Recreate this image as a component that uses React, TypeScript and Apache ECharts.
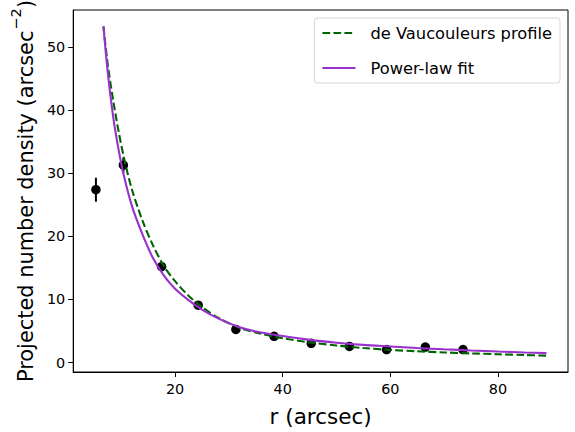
import React, { useEffect, useRef } from "react";
import * as echarts from "echarts";

// Observed data points (radius in arcsec, projected density, error)
const rObs = [5.3, 10.4, 17.5, 24.3, 31.3, 38.4, 45.3, 52.4, 59.3, 66.5, 73.5];
const densObs = [27.4, 31.3, 15.2, 9.1, 5.25, 4.15, 3.05, 2.55, 2.05, 2.45, 2.05];
const errObs = [1.9, 1.2, 0.7, 0.55, 0.45, 0.4, 0.35, 0.3, 0.3, 0.3, 0.3];

// Curves
const rCurve = [6.7, 7.5, 8.5, 9.5, 10.5, 12, 14, 16, 18, 20, 22.5, 25, 28, 32, 36, 40, 45, 50, 55, 60, 65, 70, 75, 80, 85, 89];
const deVauc = [53.3, 47.2, 41.6, 36.7, 32.5, 27.4, 22.4, 18.4, 15.2, 12.9, 10.6, 8.8, 7.1, 5.5, 4.55, 3.85, 3.2, 2.7, 2.3, 2.0, 1.78, 1.6, 1.45, 1.32, 1.19, 1.09];
const powerLaw = [53.3, 46.0, 39.0, 33.8, 29.6, 24.8, 20.2, 16.4, 13.7, 11.7, 9.9, 8.4, 7.0, 5.6, 4.75, 4.2, 3.6, 3.15, 2.8, 2.55, 2.3, 2.1, 1.92, 1.75, 1.6, 1.5];

const xTicks = [20, 40, 60, 80];
const yTicks = [0, 10, 20, 30, 40, 50];

const FONT = "DejaVu Sans";

export default function App() {
  const ref = useRef<HTMLDivElement>(null);
  useEffect(() => {
    document.body.style.margin = "0";
    const chart = echarts.init(ref.current!, null, { renderer: "svg" });
    chart.setOption({
      animation: false,
      backgroundColor: "#fff",
      textStyle: { fontFamily: FONT },
      grid: {
        left: 71,
        right: 7,
        top: 10,
        bottom: 52,
        show: true,
        borderColor: "#000",
        borderWidth: 1,
        backgroundColor: "transparent",
      },
      legend: {
        data: ["de Vaucouleurs profile", "Power-law fit"],
        orient: "vertical",
        right: 15,
        top: 18,
        itemWidth: 33,
        itemHeight: 14,
        itemGap: 19,
        padding: [7, 8, 7, 7],
        backgroundColor: "#fff",
        borderColor: "#d6d6d6",
        borderWidth: 1,
        borderRadius: 3,
        itemStyle: { opacity: 0 },
        textStyle: { fontFamily: FONT, fontSize: 16.3, color: "#000", padding: [0, 0, 0, 10] },
      },
      xAxis: {
        type: "value",
        min: 1.08,
        max: 93.0,
        name: "r (arcsec)",
        nameLocation: "middle",
        nameGap: 33,
        nameTextStyle: { fontFamily: FONT, fontSize: 21.5, color: "#000" },
        axisLine: { show: true, onZero: false, lineStyle: { color: "#000", width: 1 } },
        axisTick: { show: true, length: 5, lineStyle: { color: "#000", width: 1 }, customValues: xTicks },
        axisLabel: { fontFamily: FONT, fontSize: 14.4, color: "#000", margin: 10, customValues: xTicks },
        splitLine: { show: false },
      },
      yAxis: {
        type: "value",
        min: -1.5,
        max: 55.9,
        name: "{b|Projected number density (arcsec}{s|−2}{b|)}",
        nameLocation: "middle",
        nameGap: 37,
        nameTextStyle: {
          fontFamily: FONT,
          color: "#000",
          rich: {
            b: { fontFamily: FONT, fontSize: 20.9, color: "#000", lineHeight: 28, verticalAlign: "bottom" },
            s: { fontFamily: FONT, fontSize: 14.6, color: "#000", lineHeight: 28, verticalAlign: "top", padding: [0, 0, 0, 1] },
          },
        },
        axisLine: { show: true, onZero: false, lineStyle: { color: "#000", width: 1 } },
        axisTick: { show: true, length: 5, lineStyle: { color: "#000", width: 1 }, customValues: yTicks },
        axisLabel: { fontFamily: FONT, fontSize: 14.4, color: "#000", margin: 8, customValues: yTicks },
        splitLine: { show: false },
      },
      series: [
        {
          type: "custom",
          name: "errors",
          renderItem: (params: any, api: any) => {
            const x = api.value(0);
            const lo = api.value(1);
            const hi = api.value(2);
            const p1 = api.coord([x, lo]);
            const p2 = api.coord([x, hi]);
            return {
              type: "line",
              shape: { x1: p1[0], y1: p1[1], x2: p2[0], y2: p2[1] },
              style: { stroke: "#000", lineWidth: 2 },
            };
          },
          data: rObs.map((r, i) => [r, densObs[i] - errObs[i], densObs[i] + errObs[i]]),
          encode: { x: 0, y: [1, 2] },
          z: 2,
        },
        {
          type: "scatter",
          name: "data",
          data: rObs.map((r, i) => [r, densObs[i]]),
          symbol: "circle",
          symbolSize: 9.5,
          itemStyle: { color: "#000", opacity: 1 },
          z: 3,
        },
        {
          type: "line",
          name: "de Vaucouleurs profile",
          data: rCurve.map((r, i) => [r, deVauc[i]]),
          smooth: 0.3,
          symbol: "none",
          lineStyle: { color: "#006400", width: 2.1, type: [7.7, 3.3] },
          itemStyle: { color: "#006400" },
          z: 4,
        },
        {
          type: "line",
          name: "Power-law fit",
          data: rCurve.map((r, i) => [r, powerLaw[i]]),
          smooth: 0.3,
          symbol: "none",
          lineStyle: { color: "#9932CC", width: 2.1 },
          itemStyle: { color: "#9932CC" },
          z: 5,
        },
      ],
    });
    return () => chart.dispose();
  }, []);
  return <div ref={ref} style={{ position: "fixed", left: 0, top: 0, width: 575, height: 432 }} />;
}
